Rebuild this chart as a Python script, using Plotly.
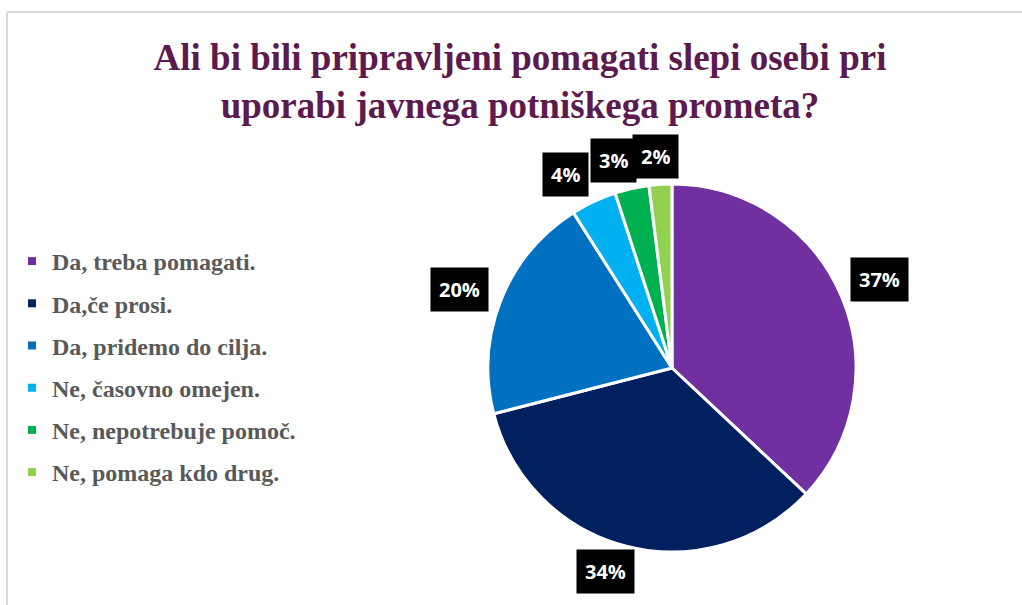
import math
import plotly.graph_objects as go

# Survey answers and their shares (percent)
categories = [
    "Da, treba pomagati.",
    "Da,če prosi.",
    "Da, pridemo do cilja.",
    "Ne, časovno omejen.",
    "Ne, nepotrebuje pomoč.",
    "Ne, pomaga kdo drug.",
]
shares = [37, 34, 20, 4, 3, 2]
colors = ["#7030A0", "#002060", "#0070C0", "#00B0F0", "#00B050", "#92D050"]

title_text = ("Ali bi bili pripravljeni pomagati slepi osebi pri<br>"
              "uporabi javnega potniškega prometa?")

W, H = 1022, 605
# Pie placement in pixels
cx, cy, r = 672, 368, 184
label_factor = 1.2
# Fine nudges of the value boxes (pixels, x right / y up)
label_shift = [(5, 1), (-12, 10), (-7, -3), (-12, -6), (-10, -8), (-3, -9)]

fig = go.Figure()

fig.add_trace(go.Pie(
    labels=categories,
    values=shares,
    sort=False,
    direction="clockwise",
    rotation=0,
    marker=dict(colors=colors, line=dict(color="white", width=3)),
    textinfo="none",
    hoverinfo="label+percent",
    showlegend=False,
    domain=dict(x=[(cx - r) / W, (cx + r) / W],
                y=[(H - cy - r) / H, (H - cy + r) / H]),
))

# Legend entries
for name, col in zip(categories, colors):
    fig.add_trace(go.Scatter(
        x=[None], y=[None], mode="markers", name=name, legendgroup=name,
        marker=dict(symbol="square", size=8, color=col),
        hoverinfo="skip",
    ))

# Percentage boxes placed around the pie at each slice's mid angle
total = sum(shares)
cum = 0
annotations = []
for val, (sx, sy) in zip(shares, label_shift):
    mid = (cum + val / 2) / total * 2 * math.pi
    cum += val
    px = cx + math.sin(mid) * r * label_factor
    py = cy - math.cos(mid) * r * label_factor
    annotations.append(dict(
        x=px / W, y=1 - py / H, xref="paper", yref="paper",
        text=f"{round(val / total * 100)}%", showarrow=False,
        xshift=sx, yshift=sy,
        font=dict(family="Open Sans", size=20, color="white", weight="bold"),
        bgcolor="black", borderpad=8,
        xanchor="center", yanchor="middle",
    ))

fig.update_layout(
    width=W, height=H,
    margin=dict(l=0, r=0, t=0, b=0),
    paper_bgcolor="white", plot_bgcolor="white",
    title=dict(
        text=title_text, x=520 / W, xanchor="center",
        y=1 - 70 / H, yanchor="top",
        font=dict(family="Liberation Serif", size=37, color="#5C1A4F", weight="bold"),
    ),
    xaxis=dict(visible=False), yaxis=dict(visible=False),
    legend=dict(
        x=12 / W, y=1 - 239 / H, xanchor="left", yanchor="top",
        font=dict(family="Liberation Serif", size=24, color="#595959", weight="bold"),
        tracegroupgap=8, itemsizing="trace", bgcolor="rgba(0,0,0,0)",
    ),
    annotations=annotations,
    shapes=[
        dict(type="line", xref="paper", yref="paper",
             x0=7 / W, x1=1, y0=1 - 12 / H, y1=1 - 12 / H,
             line=dict(color="#D9D9D9", width=2)),
        dict(type="line", xref="paper", yref="paper",
             x0=7 / W, x1=7 / W, y0=0, y1=1 - 12 / H,
             line=dict(color="#D9D9D9", width=2)),
    ],
)

fig.write_html("out.html")
